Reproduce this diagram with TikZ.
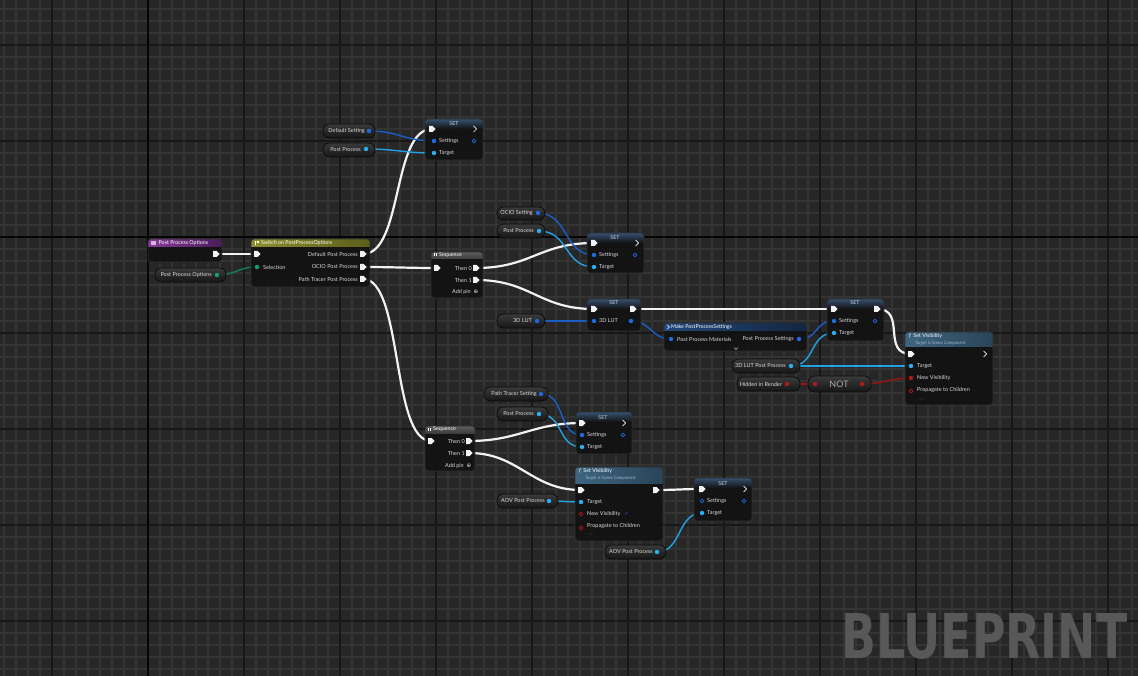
\documentclass[tikz,border=0pt]{standalone}
\usepackage{fontspec}
\usepackage{graphicx}
\setmainfont{Lato}
\newfontfamily\djv{DejaVu Sans}
\usetikzlibrary{fit}
\definecolor{bg}{HTML}{272727}
\definecolor{gminor}{HTML}{343434}
\definecolor{gmajor}{HTML}{171717}
\definecolor{gaxis}{HTML}{050505}
\definecolor{nbody}{HTML}{121212}
\definecolor{nborder}{HTML}{2e2e2e}
\definecolor{pilltop}{HTML}{3a3a3a}
\definecolor{pillbot}{HTML}{161616}
\definecolor{pborder}{HTML}{0c0c0c}
\definecolor{txt}{HTML}{dadada}
\definecolor{subtxt}{HTML}{9fb6c8}
\definecolor{wirew}{HTML}{f2f2f2}
\definecolor{wblue}{HTML}{1b5fc6}
\definecolor{wcyan}{HTML}{22a2e2}
\definecolor{wgreen}{HTML}{0d7f61}
\definecolor{wred}{HTML}{9a1212}
\definecolor{pblue}{HTML}{1f6ae0}
\definecolor{pcyan}{HTML}{2ab0f0}
\definecolor{pgreen}{HTML}{11a07a}
\definecolor{pred}{HTML}{b01a1a}
\definecolor{wm}{HTML}{585858}
\definecolor{purpL}{HTML}{8a3a9a}
\definecolor{purpR}{HTML}{4a1c58}
\definecolor{purpIcon}{HTML}{d9b3e0}
\definecolor{oliveL}{HTML}{8c8e2e}
\definecolor{oliveR}{HTML}{5c5e1c}
\definecolor{settxt}{HTML}{c8d6e6}
\definecolor{seqT}{HTML}{5e5e5e}
\definecolor{seqB}{HTML}{3c3c3c}
\definecolor{mkL}{HTML}{22477a}
\definecolor{mkR}{HTML}{142640}
\definecolor{mkIcon}{HTML}{a8d0ff}
\definecolor{chev}{HTML}{bbbbbb}
\definecolor{nottxt}{HTML}{aaaaaa}
\definecolor{svL}{HTML}{3f6580}
\definecolor{svR}{HTML}{2a4458}
\definecolor{dots}{HTML}{4a4a4a}
\definecolor{sethdrc}{HTML}{35506e}
\tikzset{
  lbl/.style={font=\fontsize{5.5}{6}\selectfont, text=txt, inner sep=0pt},
  hdr/.style={font=\fontsize{5.3}{6}\selectfont, text=white, inner sep=0pt},
  sub/.style={font=\fontsize{4.5}{5}\selectfont\itshape, text=subtxt, inner sep=0pt},
  execw/.style={draw=wirew, line width=2.2pt},
  structw/.style={draw=wblue, line width=1.4pt},
  objw/.style={draw=wcyan, line width=1.4pt},
  enumw/.style={draw=wgreen, line width=1.4pt},
  boolw/.style={draw=wred, line width=1.4pt},
  frame/.style={draw=nborder, line width=0.8pt, rounded corners=3pt, inner sep=0pt},
  pillframe/.style={draw=pborder, line width=0.8pt, rounded corners=6.5pt, inner sep=0pt},
  sethdr/.style={top color=sethdrc, bottom color=nbody},
}
\newcommand\bpbox[7]{%
  \begin{scope}
    \clip[rounded corners=3pt] (#2,#3) rectangle (#4,#5);
    \fill[nbody, opacity=0.94] (#2,#3) rectangle (#4,#5);
    \shade[#7] (#2,#3) rectangle (#4,#3+#6);
  \end{scope}
  \node[frame, fit={(#2,#3) (#4,#5)}] (#1) {};}
\newcommand\pill[5]{%
  \shade[top color=pilltop, bottom color=pillbot, rounded corners=6.5pt] (#2,#3) rectangle (#4,#5);
  \node[pillframe, fit={(#2,#3) (#4,#5)}] (#1) {};}
\newcommand\ein[1]{\fill[wirew, shift={(#1)}] (-3,-3) -- (0.5,-3) -- (3.5,0) -- (0.5,3) -- (-3,3) -- cycle;}
\newcommand\eout[1]{\draw[wirew, line width=0.7pt, line cap=round, line join=round, shift={(#1)}] (-1.5,-3) -- (1.5,0) -- (-1.5,3);}
\newcommand\dpin[2]{\fill[#2] (#1) circle (2.2pt);}
\newcommand\dpino[2]{\draw[#2, line width=0.7pt] (#1) circle (1.9pt);}
\newcommand\wire[4]{\draw[#1] (#2) .. controls +(#4,0) and +(-#4,0) .. (#3);}
\begin{document}
\begin{tikzpicture}[x=1pt,y=-1pt]
\useasboundingbox (0,0) rectangle (1138,676);
% ---------- grid
\fill[bg] (0,0) rectangle (1138,676);
\foreach \x in {4,16,...,1136} \draw[gminor, line width=1.2pt] (\x,0) -- (\x,676);
\foreach \y in {9,21,...,669} \draw[gminor, line width=1.2pt] (0,\y) -- (1138,\y);
\foreach \x in {52,148,...,1108} \draw[gmajor, line width=1.3pt] (\x,0) -- (\x,676);
\foreach \y in {45,141,...,621} \draw[gmajor, line width=1.3pt] (0,\y) -- (1138,\y);
\draw[gaxis, line width=2pt] (148,0) -- (148,676);
\draw[gaxis, line width=2pt] (0,237) -- (1138,237);
% ---------- watermark
\node[anchor=north west, inner sep=0pt, text=wm] (wmark) at (841,613)
  {\resizebox{286pt}{45pt}{\djv\bfseries BLUEPRINT}};
% ---------- pin coordinates
\coordinate (ppo-out) at (216,254);
\coordinate (ppog) at (217,275);
\coordinate (sw-in) at (257,254); \coordinate (sw-sel) at (257,267);
\coordinate (sw-o1) at (363,254); \coordinate (sw-o2) at (363,267); \coordinate (sw-o3) at (363,279);
\coordinate (defset) at (369,131); \coordinate (pp1) at (366,149);
\coordinate (set1-in) at (432,129); \coordinate (set1-out) at (475,129);
\coordinate (set1-s) at (434,141); \coordinate (set1-so) at (474,141); \coordinate (set1-t) at (434,153);
\coordinate (ocio) at (538,213); \coordinate (pp2) at (539,231);
\coordinate (set2-in) at (594,243); \coordinate (set2-out) at (637,243);
\coordinate (set2-s) at (594,255); \coordinate (set2-so) at (635,255); \coordinate (set2-t) at (594,267);
\coordinate (seq1-in) at (437,268); \coordinate (seq1-t0) at (476,268); \coordinate (seq1-t1) at (476,280);
\coordinate (lut) at (537,321);
\coordinate (set3-in) at (594,309); \coordinate (set3-out) at (633,309);
\coordinate (set3-l) at (594,321); \coordinate (set3-lo) at (631,321);
\coordinate (mpps-in) at (671,339); \coordinate (mpps-out) at (799,339);
\coordinate (set4-in) at (834,309); \coordinate (set4-out) at (877,309);
\coordinate (set4-s) at (834,321); \coordinate (set4-so) at (875,321); \coordinate (set4-t) at (834,333);
\coordinate (lutpp) at (791,366); \coordinate (hid) at (787,384);
\coordinate (not-in) at (815,384); \coordinate (not-out) at (862,384);
\coordinate (sv1-in) at (911,354); \coordinate (sv1-out) at (985,354);
\coordinate (sv1-t) at (911,366); \coordinate (sv1-nv) at (911,378); \coordinate (sv1-pc) at (911,391);
\coordinate (pts) at (541,394); \coordinate (pp3) at (539,414);
\coordinate (set5-in) at (582,423); \coordinate (set5-out) at (624,423);
\coordinate (set5-s) at (582,435); \coordinate (set5-so) at (623,435); \coordinate (set5-t) at (582,447);
\coordinate (seq2-in) at (431,441); \coordinate (seq2-t0) at (469,441); \coordinate (seq2-t1) at (469,453);
\coordinate (sv2-in) at (581,490); \coordinate (sv2-out) at (656,490);
\coordinate (sv2-t) at (581,502); \coordinate (sv2-nv) at (581,514); \coordinate (sv2-pc) at (581,528);
\coordinate (aov1) at (549,501); \coordinate (aov2) at (657,552);
\coordinate (set6-in) at (702,489); \coordinate (set6-out) at (745,489);
\coordinate (set6-s) at (702,501); \coordinate (set6-so) at (744,501); \coordinate (set6-t) at (702,513);
% ---------- wires
\wire{execw}{ppo-out}{sw-in}{15}
\wire{execw}{sw-o1}{set1-in}{40}
\wire{execw}{sw-o2}{seq1-in}{30}
\wire{execw}{sw-o3}{seq2-in}{40}
\wire{execw}{seq1-t0}{set2-in}{55}
\wire{execw}{seq1-t1}{set3-in}{55}
\wire{execw}{set3-out}{set4-in}{50}
\wire{execw}{set4-out}{sv1-in}{30}
\wire{execw}{seq2-t0}{set5-in}{50}
\wire{execw}{seq2-t1}{sv2-in}{50}
\wire{execw}{sv2-out}{set6-in}{20}
\wire{enumw}{ppog}{sw-sel}{20}
\wire{structw}{defset}{set1-s}{30}
\wire{objw}{pp1}{set1-t}{30}
\wire{structw}{ocio}{set2-s}{30}
\wire{objw}{pp2}{set2-t}{30}
\wire{structw}{lut}{set3-l}{20}
\wire{structw}{set3-lo}{mpps-in}{20}
\wire{structw}{mpps-out}{set4-s}{20}
\wire{objw}{lutpp}{set4-t}{25}
\wire{objw}{lutpp}{sv1-t}{40}
\wire{boolw}{hid}{not-in}{10}
\wire{boolw}{not-out}{sv1-nv}{20}
\wire{structw}{pts}{set5-s}{25}
\wire{objw}{pp3}{set5-t}{25}
\wire{objw}{aov1}{sv2-t}{15}
\wire{objw}{aov2}{set6-t}{25}
% ---------- Post Process Options (entry)
\bpbox{ppo}{148}{239}{222}{262}{8}{left color=purpL, right color=purpR}
\fill[purpIcon] (151,241.5) rectangle (156,245.5);
\node[hdr, anchor=west] (ppo-h) at (158.5,243.5) {Post Process Options};
\ein{ppo-out}
% ---------- Post Process Options getter
\pill{ppogp}{155}{268}{226}{282}
\node[lbl, anchor=east] (ppog-l) at (212,275) {Post Process Options};
\dpin{ppog}{pgreen}
% ---------- Switch
\bpbox{sw}{251}{239}{370}{287}{8}{left color=oliveL, right color=oliveR}
\fill[white] (254.5,241.5) rectangle (256,245.5); \fill[white] (257,241.5) rectangle (258.5,243);
\node[hdr, anchor=west] (sw-h) at (261,243.5) {Switch on PostProcessOptions};
\ein{sw-in}
\dpin{sw-sel}{pgreen}
\node[lbl, anchor=west] (sw-l0) at (263,267) {Selection};
\node[lbl, anchor=east] (sw-l1) at (358,254) {Default Post Process};
\node[lbl, anchor=east] (sw-l2) at (358,267) {OCIO Post Process};
\node[lbl, anchor=east] (sw-l3) at (358,279) {Path Tracer Post Process};
\ein{sw-o1} \ein{sw-o2} \ein{sw-o3}
% ---------- Default Setting / Post Process getters
\pill{defsetp}{323}{124}{375}{138}
\node[lbl, anchor=east] (defset-l) at (365,131) {Default Setting};
\dpin{defset}{pblue}
\pill{pp1p}{323}{143}{375}{157}
\node[lbl, anchor=east] (pp1-l) at (361,149.5) {Post Process};
\dpin{pp1}{pcyan}
% ---------- SET 1
\bpbox{set1}{425}{119}{483}{160}{10}{sethdr}
\node[hdr, text=settxt] (set1-h) at (454,123.5) {SET};
\ein{set1-in} \eout{set1-out}
\dpin{set1-s}{pblue} \dpino{set1-so}{pblue} \dpin{set1-t}{pcyan}
\node[lbl, anchor=west] (set1-ls) at (439,141) {Settings};
\node[lbl, anchor=west] (set1-lt) at (439,153) {Target};
% ---------- OCIO Setting / Post Process getters
\pill{ociop}{497}{207}{545}{220}
\node[lbl, anchor=east] (ocio-l) at (533,213) {OCIO Setting};
\dpin{ocio}{pblue}
\pill{pp2p}{497}{224}{545}{238}
\node[lbl, anchor=east] (pp2-l) at (534,231) {Post Process};
\dpin{pp2}{pcyan}
% ---------- SET 2
\bpbox{set2}{587}{233}{644}{273}{10}{sethdr}
\node[hdr, text=settxt] (set2-h) at (615,237.5) {SET};
\ein{set2-in} \eout{set2-out}
\dpin{set2-s}{pblue} \dpino{set2-so}{pblue} \dpin{set2-t}{pcyan}
\node[lbl, anchor=west] (set2-ls) at (599,255) {Settings};
\node[lbl, anchor=west] (set2-lt) at (599,267) {Target};
% ---------- Sequence 1
\bpbox{seq1}{431}{252}{483}{298}{7}{top color=seqT, bottom color=seqB}
\fill[white] (434,253.5) rectangle (435,256.5); \fill[white] (436,253.5) rectangle (437,256.5);
\node[hdr, anchor=west] (seq1-h) at (439,255.2) {Sequence};
\ein{seq1-in} \ein{seq1-t0} \ein{seq1-t1}
\node[lbl, anchor=east] (seq1-l0) at (472,268) {Then 0};
\node[lbl, anchor=east] (seq1-l1) at (472,280) {Then 1};
\node[lbl, anchor=east] (seq1-la) at (471,292) {Add pin};
\node[lbl, font=\djv\fontsize{5.5}{6}\selectfont] (seq1-plus) at (476,292) {⊕};
% ---------- 3D LUT getter
\pill{lutp}{497}{314}{545}{328}
\node[lbl, anchor=east] (lut-l) at (532,321) {3D LUT};
\dpin{lut}{pblue}
% ---------- SET 3
\bpbox{set3}{587}{299}{641}{331}{10}{sethdr}
\node[hdr, text=settxt] (set3-h) at (614,303) {SET};
\ein{set3-in} \ein{set3-out}
\dpin{set3-l}{pblue} \dpin{set3-lo}{pblue}
\node[lbl, anchor=west] (set3-ll) at (599,321) {3D LUT};
% ---------- Make PostProcessSettings
\bpbox{mpps}{664}{323}{807}{351}{8}{left color=mkL, right color=mkR}
\draw[mkIcon, line width=0.8pt] (667,325) -- (669.5,327) -- (667,329);
\node[hdr, anchor=west] (mpps-h) at (671,327.2) {Make PostProcessSettings};
\dpin{mpps-in}{pblue} \dpin{mpps-out}{pblue}
\node[lbl, anchor=west] (mpps-li) at (677,339) {Post Process Materials};
\node[lbl, anchor=east] (mpps-lo) at (794,339) {Post Process Settings};
\draw[chev, line width=0.6pt] (734,347.5) -- (736,349.5) -- (738,347.5);
% ---------- SET 4
\bpbox{set4}{827}{299}{884}{341}{10}{sethdr}
\node[hdr, text=settxt] (set4-h) at (855,303) {SET};
\ein{set4-in} \ein{set4-out}
\dpin{set4-s}{pblue} \dpino{set4-so}{pblue} \dpin{set4-t}{pcyan}
\node[lbl, anchor=west] (set4-ls) at (839,321) {Settings};
\node[lbl, anchor=west] (set4-lt) at (839,333) {Target};
% ---------- 3D LUT Post Process / Hidden in Render / NOT
\pill{lutppp}{732}{359}{800}{373}
\node[lbl, anchor=east] (lutpp-l) at (786,366) {3D LUT Post Process};
\dpin{lutpp}{pcyan}
\pill{hidp}{737}{377}{800}{391}
\node[lbl, anchor=east] (hid-l) at (782,384) {Hidden in Render};
\dpin{hid}{pred}
\pill{notp}{808}{376}{871}{392}
\node[lbl, font=\fontsize{9}{10}\selectfont, text=nottxt] (not-l) at (839,384) {NOT};
\dpin{not-in}{pred} \dpin{not-out}{pred}
% ---------- Set Visibility 1
\bpbox{sv1}{905}{332}{993}{405}{15}{left color=svL, right color=svR}
\node[hdr, anchor=west] (sv1-h) at (909,336) {\textit{f}\, Set Visibility};
\node[sub, anchor=west] (sv1-hs) at (915,343) {Target is Scene Component};
\ein{sv1-in} \eout{sv1-out}
\dpin{sv1-t}{pcyan} \dpin{sv1-nv}{pred} \dpino{sv1-pc}{pred}
\node[lbl, anchor=west] (sv1-lt) at (917,366) {Target};
\node[lbl, anchor=west] (sv1-ln) at (917,378) {New Visibility};
\node[lbl, anchor=west] (sv1-lp) at (917,390) {Propagate to Children};
\foreach \d in {0,2.5,5} \fill[dots] (918+\d,399) circle (0.5pt);
% ---------- Path Tracer Setting / Post Process getters
\pill{ptsp}{484}{387}{548}{401}
\node[lbl, anchor=east] (pts-l) at (537,394) {Path Tracer Setting};
\dpin{pts}{pblue}
\pill{pp3p}{497}{407}{548}{421}
\node[lbl, anchor=east] (pp3-l) at (534,414) {Post Process};
\dpin{pp3}{pcyan}
% ---------- SET 5
\bpbox{set5}{576}{412}{632}{454}{10}{sethdr}
\node[hdr, text=settxt] (set5-h) at (603,418) {SET};
\ein{set5-in} \eout{set5-out}
\dpin{set5-s}{pblue} \dpino{set5-so}{pblue} \dpin{set5-t}{pcyan}
\node[lbl, anchor=west] (set5-ls) at (587,435) {Settings};
\node[lbl, anchor=west] (set5-lt) at (587,447) {Target};
% ---------- Sequence 2
\bpbox{seq2}{425}{426}{475}{471}{7}{top color=seqT, bottom color=seqB}
\fill[white] (428,427.5) rectangle (429,430.5); \fill[white] (430,427.5) rectangle (431,430.5);
\node[hdr, anchor=west] (seq2-h) at (433,429.2) {Sequence};
\ein{seq2-in} \ein{seq2-t0} \ein{seq2-t1}
\node[lbl, anchor=east] (seq2-l0) at (465,441) {Then 0};
\node[lbl, anchor=east] (seq2-l1) at (465,453) {Then 1};
\node[lbl, anchor=east] (seq2-la) at (464,466) {Add pin};
\node[lbl, font=\djv\fontsize{5.5}{6}\selectfont] (seq2-plus) at (469,466) {⊕};
% ---------- Set Visibility 2
\bpbox{sv2}{575}{467}{663}{541}{16}{left color=svL, right color=svR}
\node[hdr, anchor=west] (sv2-h) at (579,471) {\textit{f}\, Set Visibility};
\node[sub, anchor=west] (sv2-hs) at (585,478.5) {Target is Scene Component};
\ein{sv2-in} \ein{sv2-out}
\dpin{sv2-t}{pcyan} \dpino{sv2-nv}{pred} \dpino{sv2-pc}{pred}
\node[lbl, anchor=west] (sv2-lt) at (587,502) {Target};
\node[lbl, anchor=west] (sv2-ln) at (587,514) {New Visibility};
\node[lbl, font=\djv\fontsize{5.5}{6}\selectfont, text=pblue] (sv2-chk) at (627,514) {✓};
\node[lbl, anchor=west] (sv2-lp) at (587,526) {Propagate to Children};
\foreach \d in {0,2.5,5} \fill[dots] (589+\d,534) circle (0.5pt);
% ---------- AOV Post Process getters
\pill{aov1p}{497}{494}{558}{508}
\node[lbl, anchor=east] (aov1-l) at (545,501) {AOV Post Process};
\dpin{aov1}{pcyan}
\pill{aov2p}{605}{545}{666}{559}
\node[lbl, anchor=east] (aov2-l) at (653,552) {AOV Post Process};
\dpin{aov2}{pcyan}
% ---------- SET 6
\bpbox{set6}{694}{478}{752}{521}{10}{sethdr}
\node[hdr, text=settxt] (set6-h) at (723,484) {SET};
\ein{set6-in} \eout{set6-out}
\dpino{set6-s}{pblue} \dpino{set6-so}{pblue} \dpin{set6-t}{pcyan}
\node[lbl, anchor=west] (set6-ls) at (707,501) {Settings};
\node[lbl, anchor=west] (set6-lt) at (707,513) {Target};
\end{tikzpicture}
\end{document}
